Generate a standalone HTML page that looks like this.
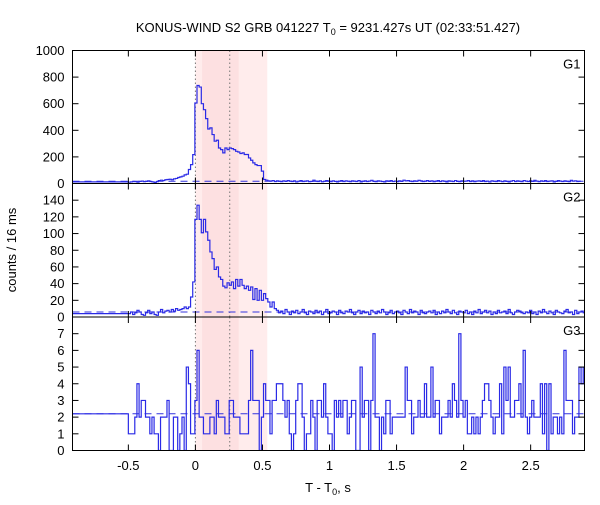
<!DOCTYPE html>
<html><head><meta charset="utf-8"><style>
body{margin:0;background:#fff;}
svg text{font-family:"Liberation Sans","DejaVu Sans",sans-serif;}
</style></head><body>
<svg id="chart" width="600" height="500" viewBox="0 0 600 500" xmlns="http://www.w3.org/2000/svg">
<text x="328" y="32" font-size="13" text-anchor="middle">KONUS-WIND S2 GRB 041227 T<tspan font-size="9" dy="3">0</tspan><tspan dy="-3"> = 9231.427s UT (02:33:51.427)</tspan></text>
<text x="328" y="492" font-size="13" text-anchor="middle">T - T<tspan font-size="9" dy="3">0</tspan><tspan dy="-3">, s</tspan></text>
<text x="0" y="0" font-size="13" text-anchor="middle" transform="translate(16,250) rotate(-90)">counts / 16 ms</text>
<g id="plotLayer"></g>
</svg>
<script>
var kwBinStart = -0.5;
var kwBinWidth = 0.016;
var kwTimeMin = -0.918;
var kwPreValues = [12, 4, 2.2];
var kwBgLevels = [17, 6, 2.2];
var kwPanelNames = ["G1", "G2", "G3"];
var kwYMax = [1000, 160, 8];
var kwYTicks = [[0,200,400,600,800,1000],[0,20,40,60,80,100,120,140],[0,1,2,3,4,5,6,7]];
var kwXTicks = [-0.5,0,0.5,1,1.5,2,2.5];
var kwMarkerTimes = [0, 0.256];
var kwBandLight = [0, 0.536];
var kwBandDark = [0.05, 0.323];
var kwG1Counts = [10,12,15,14,10,16,18,14,16,20,15,12,8,14,22,25,22,28,30,32,28,35,38,45,50,55,65,70,
105,142,217,605,737,725,600,555,488,410,418,368,318,325,267,255,230,267,255,267,262,255,242,237,225,230,218,218,192,175,155,142,135,135,93,30,
25,20,18,22,15,20,17,14,20,16,22,18,15,20,12,17,22,15,18,20,14,16,25,18,15,20,13,17,22,18,14,20,16,12,18,22,15,20,17,14,20,18,15,22,12,17,20,15,18,24,16,14,20,18,15,12,20,17,22,15,18,14,20,16,25,20,22,18,15,20,17,24,20,15,18,22,16,20,14,18,22,15,20,17,12,20,18,15,22,16,14,20,17,18,22,15,20,14,18,20,16,22,15,18,12,20,17,15,22,18,14,20,16,12,18,22,15,
20,17,14,22,18,15,20,16,24,18,14,20,17,22,15,18,20,12,16,22,18,15,20,17,14,24,18,20,15,17];
var kwG2Counts = [4,6,3,5,8,6,3,2,5,8,4,6,3,2,6,9,5,7,8,6,9,7,10,8,9,10,12,10,
12,24,42,117,134,117,101,117,102,92,78,70,57,60,48,45,37,35,41,38,42,34,45,37,45,38,34,37,32,36,21,34,20,32,20,28,22,18,12,18,10,
8,5,7,4,9,6,3,7,5,8,4,6,9,5,3,7,6,4,8,5,7,3,6,9,4,5,7,6,3,8,5,4,7,6,9,5,3,6,8,4,7,5,6,3,8,6,4,7,5,9,6,3,5,8,4,6,7,5,3,8,6,4,9,5,7,6,3,8,5,4,6,7,5,8,3,6,4,7,5,9,6,4,8,5,3,7,6,5,8,4,6,3,7,5,9,4,6,8,5,7,3,6,4,8,5,6,7,4,9,5,3,6,8,7,5,4,6,
5,8,4,6,3,7,5,9,6,4,7,5,3,8,6,5,4,7,9,5,6,3,8,4,6,7,5,3,6,8];
var kwG3Counts = [1,1,1,2,4,2,3,3,2,2,1,2,1,1,0,2,2,2,3,0,0,2,2,0,1,2,0,5,4,1,
1,3,6,2,2,1,1,1,2,2,1,3,2,2,2,1,1,3,3,2,2,2,1,1,1,1,3,6,3,3,3,0,2,4,3,3,1,3,3,4,4,
4,3,2,3,1,0,1,3,4,4,2,0,1,1,3,2,0,3,3,2,4,2,1,1,0,3,2,3,2,3,3,1,2,3,3,0,0,5,2,3,3,0,3,7,2,2,0,2,1,3,3,1,2,2,2,2,2,2,
5,3,3,1,2,2,3,2,2,4,2,2,5,2,3,3,1,2,2,2,3,2,4,3,2,7,3,2,3,1,1,2,1,2,1,2,3,4,4,3,2,1,2,2,4,1,5,3,5,2,2,3,3,4,2,6,2,1,2,3,2,2,2,4,1,4,0,4,1,2,2,1,2,1,6,3,3,3,1,2,2,5,4,5];

(function(){
  var NSURI = "http://www.w3.org/2000/svg";
  var seriesList = [kwG1Counts, kwG2Counts, kwG3Counts];
  var LEFT = 72.5, RIGHT = 584.5;
  var pTop = [50.5, 183.5, 317];
  var pBot = [183.5, 317, 450.5];
  function xScale(t){ return 195.4 + t * 134.1; }
  function yScale(p, v){ return pBot[p] - v / kwYMax[p] * (pBot[p] - pTop[p]); }
  var layer = document.getElementById("plotLayer");
  function mk(tag, attrs, parent){
    var e = document.createElementNS(NSURI, tag);
    for (var key in attrs) e.setAttribute(key, String(attrs[key]));
    (parent || layer).appendChild(e);
    return e;
  }
  var defsEl = mk("defs", {});
  for (var p = 0; p < 3; p++){
    var cp = mk("clipPath", {id: "kwclip" + p}, defsEl);
    mk("rect", {x: LEFT, y: pTop[p], width: RIGHT - LEFT, height: pBot[p] - pTop[p]}, cp);
  }
  for (var p2 = 0; p2 < 3; p2++){
    var yt = pTop[p2], yb = pBot[p2];
    var bl = mk("rect", {x: xScale(kwBandLight[0]), y: yt, width: xScale(kwBandLight[1]) - xScale(kwBandLight[0]), height: yb - yt, fill: "#ffecec"});
    
    
    var bd = mk("rect", {x: xScale(kwBandDark[0]), y: yt, width: xScale(kwBandDark[1]) - xScale(kwBandDark[0]), height: yb - yt, fill: "#fde0e1"});
    
    
    for (var m = 0; m < kwMarkerTimes.length; m++){
      var mx = xScale(kwMarkerTimes[m]);
      var ml = mk("line", {x1: mx, x2: mx, y1: yt, y2: yb, stroke: "#777", "stroke-width": 1, "stroke-dasharray": "1.5,2.5"});
      
      
    }
    var by = yScale(p2, kwBgLevels[p2]);
    var bg = mk("line", {x1: LEFT, x2: RIGHT, y1: by, y2: by, stroke: "#3333dd", "stroke-width": 1, "stroke-dasharray": "7,5"});
    
    
    var vals = seriesList[p2];
    var d = "M" + xScale(kwTimeMin).toFixed(2) + "," + yScale(p2, kwPreValues[p2]).toFixed(2) + " H" + xScale(kwBinStart).toFixed(2);
    for (var k = 0; k < vals.length; k++){
      var t0 = kwBinStart + k * kwBinWidth;
      d += " V" + yScale(p2, vals[k]).toFixed(2) + " H" + xScale(t0 + kwBinWidth).toFixed(2);
    }
    var path = mk("path", {d: d, fill: "none", stroke: "#2a2ae6", "stroke-width": 1.2, "clip-path": "url(#kwclip" + p2 + ")"});
    
    
    var fr = mk("rect", {x: LEFT, y: yt, width: RIGHT - LEFT, height: yb - yt, fill: "none", stroke: "#000", "stroke-width": 1});
    
    
    var ticks = kwYTicks[p2];
    for (var i = 0; i < ticks.length; i++){
      var y = yScale(p2, ticks[i]);
      mk("line", {x1: LEFT, x2: LEFT + 6, y1: y, y2: y, stroke: "#000"});
      mk("line", {x1: RIGHT - 6, x2: RIGHT, y1: y, y2: y, stroke: "#000"});
      var tl = mk("text", {x: LEFT - 8, y: y + 4.5, "font-size": 13, "text-anchor": "end"});
      tl.textContent = String(ticks[i]);
      
      
    }
    for (var j = 0; j < kwXTicks.length; j++){
      var x = xScale(kwXTicks[j]);
      mk("line", {x1: x, x2: x, y1: yb, y2: yb - 6, stroke: "#000"});
      mk("line", {x1: x, x2: x, y1: yt, y2: yt + 6, stroke: "#000"});
    }
    var pl = mk("text", {x: RIGHT - 4, y: yt + 18, "font-size": 13, "text-anchor": "end"});
    pl.textContent = kwPanelNames[p2];
    
    
  }
  for (var q = 0; q < kwXTicks.length; q++){
    var xl = mk("text", {x: xScale(kwXTicks[q]), y: 470, "font-size": 13, "text-anchor": "middle"});
    xl.textContent = String(kwXTicks[q]);
    
    
  }
})();
</script>
</body></html>
